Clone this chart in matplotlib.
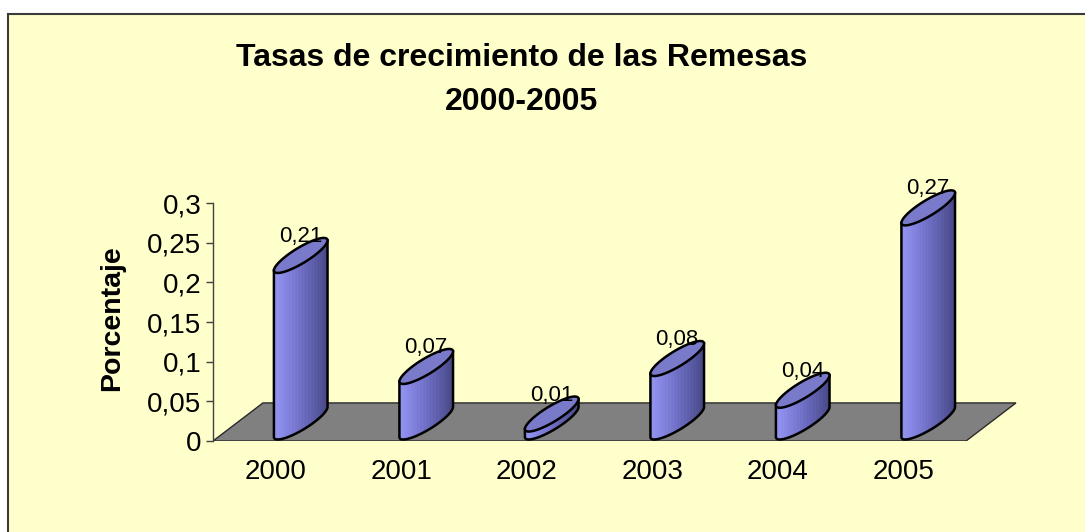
import numpy as np
import matplotlib
matplotlib.use("Agg")
import matplotlib.pyplot as plt
from matplotlib.patches import Polygon, Rectangle
from matplotlib.colors import LinearSegmentedColormap

# ---- data ----
years = ["2000", "2001", "2002", "2003", "2004", "2005"]
values = [0.21, 0.07, 0.01, 0.08, 0.04, 0.27]
value_labels = ["0,21", "0,07", "0,01", "0,08", "0,04", "0,27"]
yticks = [0, 0.05, 0.1, 0.15, 0.2, 0.25, 0.3]
ytick_labels = ["0", "0,05", "0,1", "0,15", "0,2", "0,25", "0,3"]
title_lines = ["Tasas de crecimiento de las Remesas", "2000-2005"]
ylabel = "Porcentaje"

# ---- styling / geometry ----
W, H = 1085, 532
FONT = ["Liberation Sans", "DejaVu Sans"]
plt.rcParams['font.family'] = FONT

DEPTH_X = 0.398   # floor depth offset in category units
DEPTH_Y = 0.048   # floor depth offset in value units
RAD_X = 0.11      # cylinder half-width along x (category units)
DEPTH_FRAC = 0.92 # fraction of floor depth used by cylinder

fig = plt.figure(figsize=(W / 100, H / 100), dpi=100, facecolor='white')
bg = Rectangle((8 / W, -0.1), 1.2, (H - 14) / H + 0.1,
               transform=fig.transFigure, facecolor='#FFFFCC',
               edgecolor='#3a3a3a', lw=1.5, zorder=-5)
fig.patches.append(bg)

px_per_cat = 125.5
px_per_val = 793.0
x0, x1 = -0.5, 6.3
y0, y1 = 0.0, 0.36
left_px, bottom_px = 213, 441
ax = fig.add_axes([left_px / W, (H - bottom_px) / H,
                   (x1 - x0) * px_per_cat / W, (y1 - y0) * px_per_val / H])
ax.set_zorder(2)
ax.patch.set_visible(False)

n = len(years)
# floor
floor = Polygon([(-0.5, 0), (n - 0.5, 0), (n - 0.5 + DEPTH_X, DEPTH_Y),
                 (-0.5 + DEPTH_X, DEPTH_Y)], closed=True,
                facecolor='#808080', edgecolor='#2a2a2a', lw=1.0, zorder=1)
ax.add_patch(floor)

cmap = LinearSegmentedColormap.from_list(
    'cyl', ['#9494F2', '#8282DE', '#6E6EC4', '#5B5BA6', '#474784'])

bu = DEPTH_FRAC * DEPTH_X / 2
bv = DEPTH_FRAC * DEPTH_Y / 2
th1 = np.arctan2(bu, RAD_X)
th2 = th1 + np.pi
half_w = np.hypot(RAD_X, bu)

def ell(cx, cy, th):
    return cx + RAD_X * np.cos(th) + bu * np.sin(th), cy + bv * np.sin(th)

grad = np.linspace(0, 1, 256)
# subtle vertical light stripes as in the reference rendering
stripe = np.zeros_like(grad)
for s in np.linspace(0.08, 0.85, 14):
    stripe += 0.10 * np.exp(-((grad - s) / 0.006) ** 2)
grad_img = np.clip(grad - stripe, 0, 1)[None, :]

for i, v in enumerate(values):
    cx = i + DEPTH_X / 2
    cy = DEPTH_Y / 2
    th_front = np.linspace(th2, th1 + 2 * np.pi, 80)
    bx, by = ell(cx, cy, th_front)
    tx, ty = ell(cx, cy + v, th_front[::-1])
    body_xy = np.column_stack([np.concatenate([bx, tx]), np.concatenate([by, ty])])
    body = Polygon(body_xy, closed=True, facecolor='none', edgecolor='none', zorder=3)
    ax.add_patch(body)
    im = ax.imshow(grad_img, cmap=cmap, aspect='auto', interpolation='bilinear',
                   extent=[cx - half_w, cx + half_w, cy - bv, cy + v + bv],
                   zorder=3)
    im.set_clip_path(body)
    # outline of body: silhouettes + front bottom arc
    ox = np.concatenate([[tx[-1]], bx, [tx[0]]])
    oy = np.concatenate([[ty[-1]], by, [ty[0]]])
    ax.plot(ox, oy, color='black', lw=1.8, zorder=4, solid_joinstyle='round')
    # top ellipse
    th_all = np.linspace(0, 2 * np.pi, 160)
    ex, ey = ell(cx, cy + v, th_all)
    ax.add_patch(Polygon(np.column_stack([ex, ey]), closed=True,
                         facecolor='#7A7ACB', edgecolor='black', lw=1.8, zorder=5))
    ax.text(cx, v + DEPTH_Y / 2 + 0.024, value_labels[i], ha='center', va='center',
            fontsize=16, color='black', zorder=6)

ax.set_xlim(x0, x1)
ax.set_ylim(y0, y1)
for s in ['top', 'right', 'bottom']:
    ax.spines[s].set_visible(False)
ax.spines['left'].set_bounds(0, 0.3)
ax.spines['left'].set_color('#404040')
ax.spines['left'].set_linewidth(1.0)
ax.set_yticks(yticks)
ax.set_yticklabels(ytick_labels, fontsize=20)
ax.tick_params(axis='y', direction='out', length=5, width=1, color='#404040', pad=3.5)
ax.set_xticks(range(n))
ax.set_xticklabels(years, fontsize=20)
ax.tick_params(axis='x', length=0, pad=13)

fig.text(112 / W, 1 - 318 / H, ylabel, rotation=90, ha='center', va='center',
         fontsize=20.5, fontweight='bold')
fig.text(522 / W, 1 - 58 / H, title_lines[0], ha='center', va='center',
         fontsize=23, fontweight='bold')
fig.text(522 / W, 1 - 102 / H, title_lines[1], ha='center', va='center',
         fontsize=23, fontweight='bold')

fig.savefig('out.png', dpi=100, facecolor='white')
